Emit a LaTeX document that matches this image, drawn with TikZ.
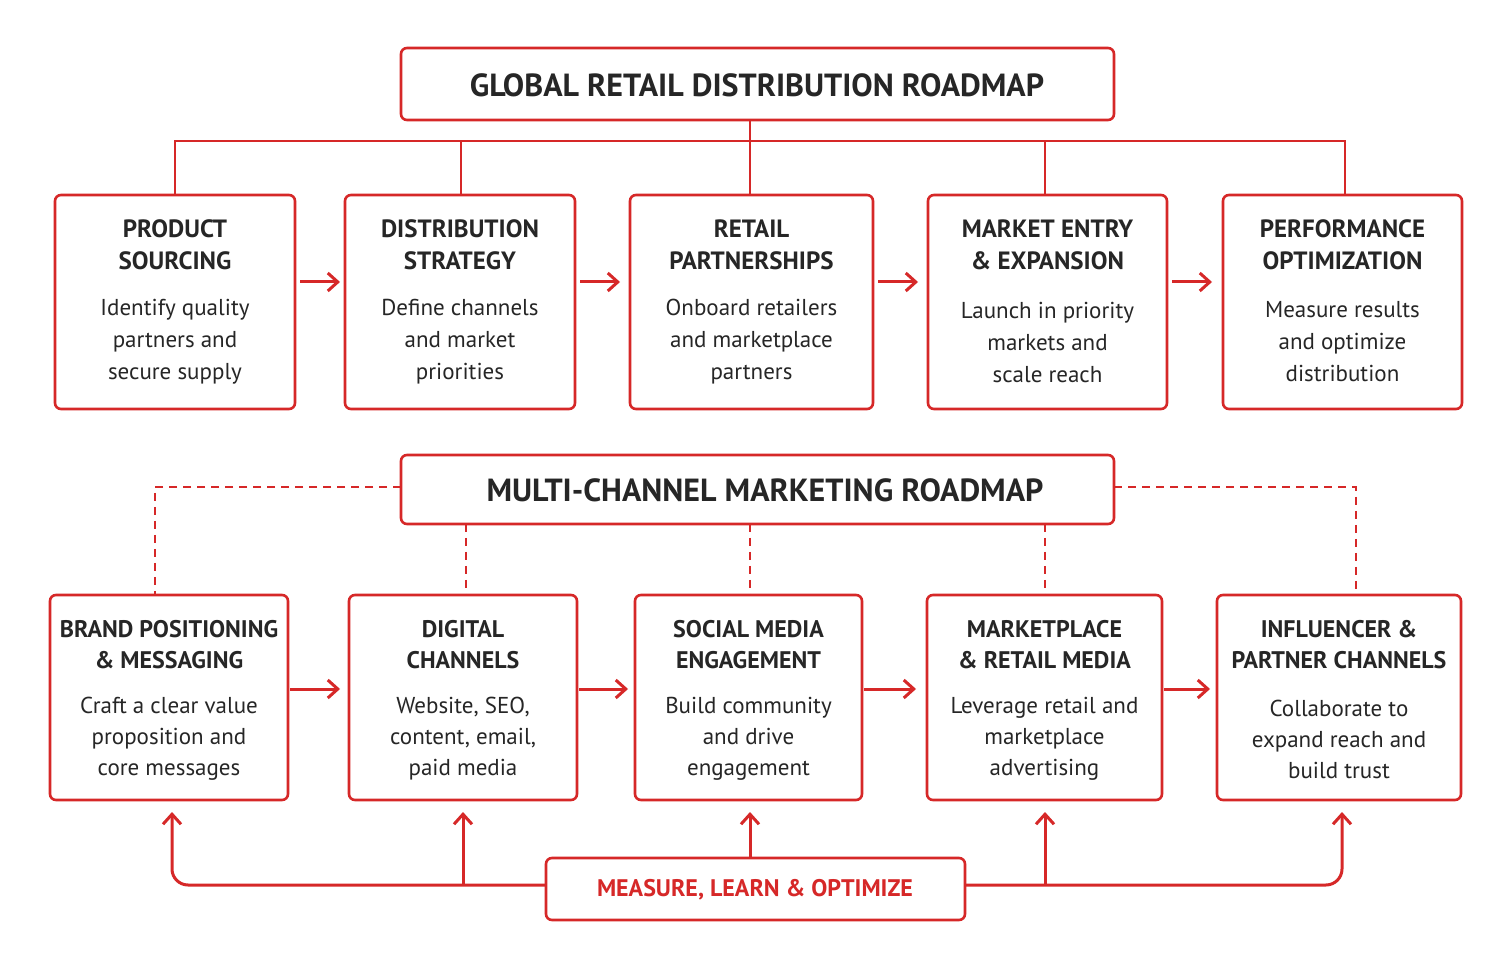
\documentclass[tikz,border=0pt]{standalone}
\usepackage{fontspec}
\setmainfont{PT Sans}
\usetikzlibrary{arrows.meta}
\definecolor{rd}{HTML}{D62828}
\begin{document}
\begin{tikzpicture}[x=0.5pt,y=-0.5pt,
 box/.style={draw=rd,line width=1.3pt,rounded corners=3pt},
 ln/.style={draw=rd,line width=1.3pt},
 dl/.style={draw=rd,line width=1.1pt,dash pattern=on 4pt off 3pt},
 arr/.style={draw=rd,line width=1.5pt,-{Straight Barb[length=5pt,width=9pt]}},
 hd/.style={font=\fontsize{12.5}{16}\selectfont\bfseries,align=center,text=black!85},
 ds/.style={font=\fontsize{11.5}{16}\selectfont,align=center,text=black!85}]
\useasboundingbox (0,0) rectangle (1510,967);
\fill[white] (0,0) rectangle (1510,967);
% top title
\draw[box] (401,48) rectangle (1114,120);
\node[font=\fontsize{16}{18}\selectfont\bfseries,text=black!85] (t1) at (757,85) {GLOBAL RETAIL DISTRIBUTION ROADMAP};
\draw[ln] (750,120)--(750,141);
\draw[ln] (175,195)--(175,141)--(1345,141)--(1345,195);
\foreach \x in {461,750,1045}{\draw[ln] (\x,141)--(\x,195);}
% top boxes
\foreach \a/\b/\h/\d in {55/295/{PRODUCT\\SOURCING}/{Identify quality\\partners and\\secure supply},
345/575/{DISTRIBUTION\\STRATEGY}/{Define channels\\and market\\priorities},
630/873/{RETAIL\\PARTNERSHIPS}/{Onboard retailers\\and marketplace\\partners},
928/1167/{MARKET ENTRY\\\& EXPANSION}/{Launch in priority\\markets and\\scale reach},
1223/1462/{PERFORMANCE\\OPTIMIZATION}/{Measure results\\and optimize\\distribution}}{
 \draw[box] (\a,195) rectangle (\b,409);
 \node[hd] at ({(\a+\b)/2},245) {\h};
 \node[ds] at ({(\a+\b)/2},342) {\d};}
\foreach \a/\b in {295/345,575/625,873/923,1167/1217}{\draw[arr] (\a+5,282)--(\b-5,282);}
% second title
\draw[box] (401,455) rectangle (1114,524);
\node[font=\fontsize{16}{18}\selectfont\bfseries,text=black!85] (t2) at (765,490) {MULTI-CHANNEL MARKETING ROADMAP};
\draw[dl] (401,487)--(155,487)--(155,595);
\draw[dl] (1114,487)--(1356,487)--(1356,595);
\foreach \x in {466,750,1045}{\draw[dl] (\x,524)--(\x,595);}
% bottom boxes
\foreach \a/\b/\h/\d in {50/288/{BRAND POSITIONING\\\& MESSAGING}/{Craft a clear value\\proposition and\\core messages},
349/577/{DIGITAL\\CHANNELS}/{Website, SEO,\\content, email,\\paid media},
635/862/{SOCIAL MEDIA\\ENGAGEMENT}/{Build community\\and drive\\engagement},
927/1162/{MARKETPLACE\\\& RETAIL MEDIA}/{Leverage retail and\\marketplace\\advertising},
1217/1461/{INFLUENCER \&\\PARTNER CHANNELS}/{Collaborate to\\expand reach and\\build trust}}{
 \draw[box] (\a,595) rectangle (\b,800);
 \node[hd,font=\fontsize{12}{15.5}\selectfont\bfseries] at ({(\a+\b)/2},645) {\h};
 \node[ds,font=\fontsize{11.5}{15.5}\selectfont] at ({(\a+\b)/2},739) {\d};}
\foreach \a/\b in {288/342,577/630,862/918,1162/1212}{\draw[arr] (\a+2,689)--(\b-2,689);}
% measure
\draw[box] (546,858) rectangle (965,920);
\node[font=\fontsize{12}{14}\selectfont\bfseries,text=rd] (m) at (755,890) {MEASURE, LEARN \& OPTIMIZE};
\draw[arr,rounded corners=8pt] (546,885)--(172,885)--(172,812);
\draw[arr] (463,885)--(463,812);
\draw[arr] (750,858)--(750,812);
\draw[arr,rounded corners=8pt] (965,885)--(1342,885)--(1342,812);
\draw[arr] (1045,885)--(1045,812);
\end{tikzpicture}
\end{document}
